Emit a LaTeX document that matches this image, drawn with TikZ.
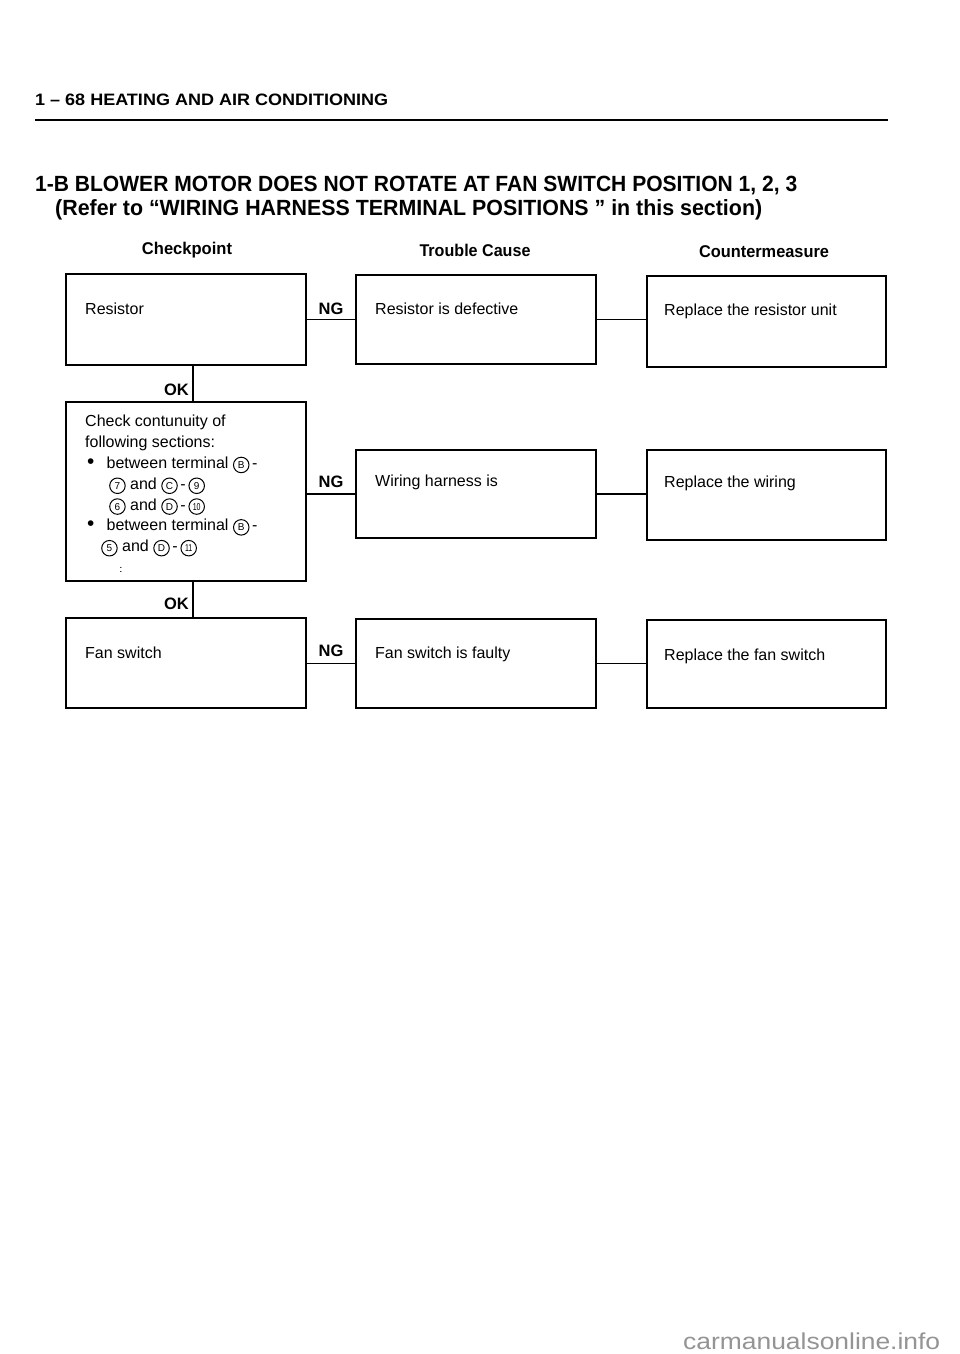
\documentclass[tikz,border=0pt]{standalone}
\usepackage{fontspec}
\setmainfont{Liberation Sans}
\usepackage{graphicx}
\newcommand\Circ[1]{\tikz[baseline=(cc.base)]\node[circle,draw,line width=1pt,inner sep=0pt,minimum size=15.5pt,font=\fontsize{10}{10}\selectfont](cc){#1};}
\newcommand\CircN[1]{\tikz[baseline=(cc.base)]\node[circle,draw,line width=1pt,inner sep=0pt,minimum size=15.5pt,font=\fontsize{10}{10}\selectfont](cc){\scalebox{0.7}[1]{#1}};}
\tikzset{
  box/.style={draw,line width=1.3pt,inner sep=0pt},
  txt/.style={inner sep=0pt,anchor=west,font=\fontsize{16}{19}\selectfont,text height=11.5pt,text depth=3.5pt},
  lbl/.style={inner sep=0pt,font=\bfseries\fontsize{16.5}{19}\selectfont,text height=11.5pt,text depth=0pt},
  colhead/.style={inner sep=0pt},
  conn/.style={line width=1.3pt},
}
\begin{document}
\begin{tikzpicture}[x=1pt,y=-1pt]
\useasboundingbox[fill=white] (0,0) rectangle (960,1354);
% header
\node[inner sep=0pt,anchor=west] (hdr) at (35,100) {\resizebox{353pt}{\height}{\bfseries\fontsize{16.5}{18}\selectfont 1 – 68 HEATING AND AIR CONDITIONING}};
\coordinate (rl) at (35,120);
\coordinate (rr) at (888,120);
\draw[line width=2.6pt] (rl) -- (rr);
% title
\node[inner sep=0pt,anchor=west] (t1) at (35,186) {\resizebox{762pt}{\height}{\bfseries\fontsize{22}{24}\selectfont 1-B BLOWER MOTOR DOES NOT ROTATE AT FAN SWITCH POSITION 1, 2, 3}};
\node[inner sep=0pt,anchor=west] (t2) at (55,210) {\resizebox{707pt}{\height}{\bfseries\fontsize{22}{24}\selectfont (Refer to “WIRING HARNESS TERMINAL POSITIONS ” in this section)}};
% column heads
\node[colhead] (h1) at (187,250) {\resizebox{90pt}{\height}{\bfseries\fontsize{17}{18}\selectfont Checkpoint}};
\node[colhead] (h2) at (475,250) {\resizebox{111pt}{\height}{\bfseries\fontsize{17}{18}\selectfont Trouble Cause}};
\node[colhead] (h3) at (764,252) {\resizebox{130pt}{\height}{\bfseries\fontsize{17}{18}\selectfont Countermeasure}};
% row 1
\node[box,minimum width=240pt,minimum height=91pt] (c1) at (186,319.5) {};
\node[box,minimum width=240pt,minimum height=89pt] (tc1) at (476,319.5) {};
\node[box,minimum width=239pt,minimum height=91pt] (cm1) at (766.5,321.5) {};
\node[txt] (c1t) at (85,310) {Resistor};
\node[txt] (tc1t) at (375,310) {Resistor is defective};
\node[txt] (cm1t) at (664,311) {Replace the resistor unit};
% row 2
\node[box,minimum width=240pt,minimum height=179pt] (c2) at (186,491.5) {};
\node[box,minimum width=240pt,minimum height=88pt] (tc2) at (476,494) {};
\node[box,minimum width=239pt,minimum height=90pt] (cm2) at (766.5,495) {};
\node[inner sep=0pt,anchor=north west,align=left,font=\fontsize{16}{20.8}\selectfont] (c2t) at (85,415) {%
Check contunuity of\\
following sections:\\
\hspace*{2pt}\makebox[19.5pt][l]{\scalebox{1.3}{\textbullet}}between terminal \Circ{B}\,-\\
\hspace*{24pt}\Circ{7} and \Circ{C}\,-\,\Circ{9}\\
\hspace*{24pt}\Circ{6} and \Circ{D}\,-\,\CircN{10}\\
\hspace*{2pt}\makebox[19.5pt][l]{\scalebox{1.3}{\textbullet}}between terminal \Circ{B}\,-\\
\hspace*{16pt}\Circ{5} and \Circ{D}\,-\,\CircN{11}\\
\hspace*{34pt}\scalebox{0.8}[0.6]{:}};
\node[txt] (tc2t) at (375,482) {Wiring harness is};
\node[txt] (cm2t) at (664,483) {Replace the wiring};
% row 3
\node[box,minimum width=240pt,minimum height=90pt] (c3) at (186,663) {};
\node[box,minimum width=240pt,minimum height=89pt] (tc3) at (476,663.5) {};
\node[box,minimum width=239pt,minimum height=88pt] (cm3) at (766.5,664) {};
\node[txt] (c3t) at (85,654) {Fan switch};
\node[txt] (tc3t) at (375,654) {Fan switch is faulty};
\node[txt] (cm3t) at (664,656) {Replace the fan switch};
% connectors
\draw[conn] (tc1.west) -- (tc1.west -| c1.east);
\draw[conn] (tc1.east) -- (tc1.east -| cm1.west);
\draw[conn] (tc2.west) -- (tc2.west -| c2.east);
\draw[conn] (tc2.east) -- (tc2.east -| cm2.west);
\draw[conn] (tc3.west) -- (tc3.west -| c3.east);
\draw[conn] (tc3.east) -- (tc3.east -| cm3.west);
\coordinate (ok1) at (193,365);
\draw[conn] (c1.south -| ok1) -- (c2.north -| ok1);
\draw[conn] (c2.south -| ok1) -- (c3.north -| ok1);
\node[lbl,anchor=east] (okl1) at (189,390) {OK};
\node[lbl,anchor=east] (okl2) at (189,604) {OK};
\node[lbl] (ng1) at (331,309) {NG};
\node[lbl] (ng2) at (331,482) {NG};
\node[lbl] (ng3) at (331,651) {NG};
% watermark
\node[inner sep=0pt,anchor=west,text=black!42] (wm) at (683,1341) {\resizebox{257pt}{\height}{\fontsize{23}{26}\selectfont carmanualsonline.info}};
\end{tikzpicture}
\end{document}
